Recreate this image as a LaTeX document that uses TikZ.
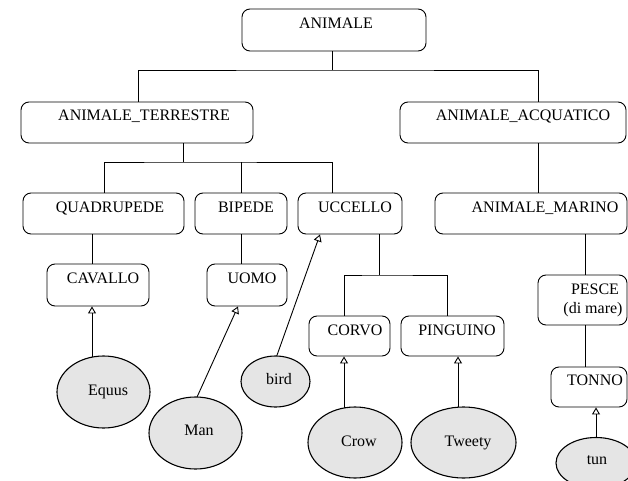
\documentclass[tikz,border=0pt]{standalone}
\usepackage{fontspec}
\setmainfont{Liberation Serif}
\usetikzlibrary{arrows.meta,shapes.geometric,backgrounds}
\tikzset{
  box/.style={draw, rounded corners=8pt, line width=0.9pt, inner sep=0pt},
  oval/.style={ellipse, draw, fill=gray!20, line width=1.1pt, inner sep=0pt},
  txt/.style={anchor=base, inner sep=0pt, font=\fontsize{16}{19}\selectfont},
  link/.style={line width=0.9pt},
  isa/.style={line width=0.9pt, -{Triangle[open, length=7pt, width=8pt]}},
}
\begin{document}
\begin{tikzpicture}[x=1pt, y=-1pt]
\useasboundingbox (0,0) rectangle (628,481);
\clip (0,0) rectangle (628,481);
% boxes
\node[box, minimum width=184pt, minimum height=42pt] (animale) at (334,30) {};
\node[txt] (animale-t) at (336,29) {ANIMALE};
\node[box, minimum width=232pt, minimum height=41pt] (ter) at (137,122.5) {};
\node[txt] (ter-t) at (144,121) {ANIMALE\_TERRESTRE};
\node[box, minimum width=226pt, minimum height=41pt] (acq) at (513,122.5) {};
\node[txt] (acq-t) at (523,121) {ANIMALE\_ACQUATICO};
\node[box, minimum width=161pt, minimum height=41pt] (quad) at (103.5,213.5) {};
\node[txt] (quad-t) at (110,212.5) {QUADRUPEDE};
\node[box, minimum width=92pt, minimum height=41pt] (bip) at (241,213.5) {};
\node[txt] (bip-t) at (246,212.5) {BIPEDE};
\node[box, minimum width=104pt, minimum height=41pt] (ucc) at (350,213.5) {};
\node[txt] (ucc-t) at (355,212.5) {UCCELLO};
\node[box, minimum width=192pt, minimum height=41pt] (mar) at (531,213.5) {};
\node[txt] (mar-t) at (545,212.5) {ANIMALE\_MARINO};
\node[box, minimum width=102pt, minimum height=42pt] (cav) at (98,285) {};
\node[txt] (cav-t) at (103,283) {CAVALLO};
\node[box, minimum width=80pt, minimum height=42pt] (uomo) at (247,285) {};
\node[txt] (uomo-t) at (252,283) {UOMO};
\node[box, minimum width=81pt, minimum height=40pt] (corvo) at (349.5,336) {};
\node[txt] (corvo-t) at (355,335) {CORVO};
\node[box, minimum width=103pt, minimum height=40pt] (ping) at (452.5,336) {};
\node[txt] (ping-t) at (457,335) {PINGUINO};
\node[box, minimum width=89pt, minimum height=50pt] (pesce) at (582.5,300) {};
\node[txt] (pesce-t1) at (595,294) {PESCE};
\node[txt] (pesce-t2) at (593,313.5) {(di mare)};
\node[box, minimum width=76pt, minimum height=40pt] (tonno) at (589,387) {};
\node[txt] (tonno-t) at (595,385.5) {TONNO};
% instances
\node[oval, minimum width=93pt, minimum height=72pt] (equus) at (103.5,392) {};
\node[txt] (equus-t) at (108,395) {Equus};
\node[oval, minimum width=93pt, minimum height=72pt] (man) at (195.5,433) {};
\node[txt] (man-t) at (199,435) {Man};
\node[oval, minimum width=69pt, minimum height=51pt] (bird) at (275.5,381.5) {};
\node[txt] (bird-t) at (279,384) {bird};
\node[oval, minimum width=94pt, minimum height=71pt] (crow) at (355,442.5) {};
\node[txt] (crow-t) at (359,446) {Crow};
\node[oval, minimum width=105pt, minimum height=71pt] (tweety) at (463.5,442.5) {};
\node[txt] (tweety-t) at (468,446) {Tweety};
\node[oval, minimum width=80pt, minimum height=51pt] (tun) at (596,463) {};
\node[txt] (tun-t) at (597,464) {tun};
\coordinate (j0) at (332,70);
\coordinate (j1) at (183,162);
\coordinate (j2) at (379,275);
\begin{scope}[on background layer]
% hierarchy
\draw[link] ([xshift=-2pt]animale.south) -- (j0);
\draw[link] ([xshift=1pt]ter.north) |- (j0) -| ([xshift=25pt]acq.north);
\draw[link] ([xshift=46pt]ter.south) -- (j1);
\draw[link] ([xshift=0.5pt]quad.north) |- (j1) -| ([xshift=-18pt]ucc.north);
\draw[link] (bip.north) -- (bip.north |- j1);
\draw[link] ([xshift=25pt]acq.south) -- ([xshift=7pt]mar.north);
\draw[link] ([xshift=-11.5pt]quad.south) -- ([xshift=-6pt]cav.north);
\draw[link] (bip.south) -- ([xshift=-6pt]uomo.north);
\draw[link] ([xshift=29pt]ucc.south) -- (j2);
\draw[link] ([xshift=-5.5pt]corvo.north) |- (j2) -| ([xshift=-5.5pt]ping.north);
\draw[link] ([xshift=54pt]mar.south) -- ([xshift=2.5pt]pesce.north);
\draw[link] ([xshift=2.5pt]pesce.south) -- ([xshift=-4pt]tonno.north);
% instance-of
\draw[isa] ([xshift=-11.5pt]equus.center) -- ([xshift=-6pt]cav.south);
\draw[isa] ([yshift=-4pt]man.north) -- ([xshift=-9pt]uomo.south);
\draw[isa] ([yshift=-4pt]bird.north) -- ([xshift=-30pt]ucc.south);
\draw[isa] ([xshift=-11pt]crow.center) -- ([xshift=-5.5pt]corvo.south);
\draw[isa] ([xshift=-5.5pt]tweety.center) -- ([xshift=5.5pt]ping.south);
\draw[isa] (tun.center) -- ([xshift=7pt]tonno.south);
\end{scope}
\end{tikzpicture}
\end{document}
